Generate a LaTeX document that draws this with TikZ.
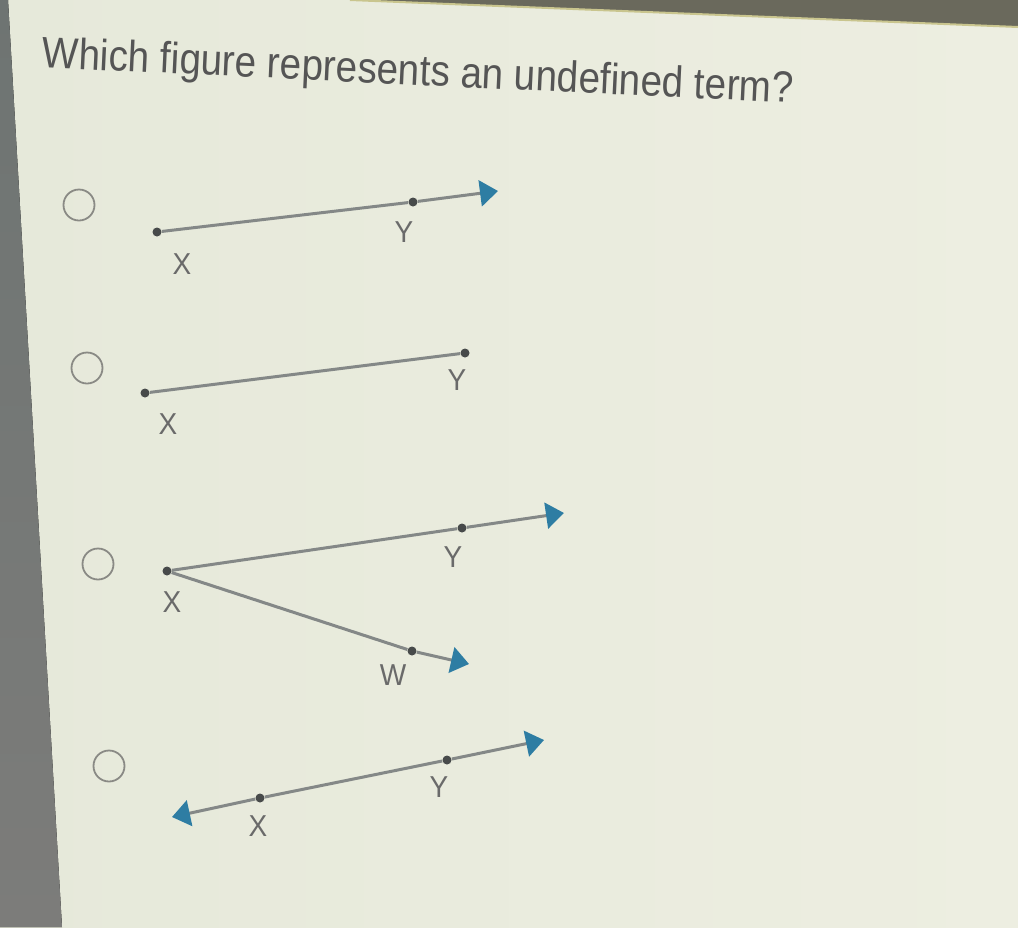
\documentclass[tikz,border=0pt]{standalone}
\usepackage{fontspec}
\setmainfont{Liberation Sans}
\usepackage{tikz}
\usetikzlibrary{positioning,arrows.meta}
\definecolor{pagebg}{HTML}{E6E9DA}
\definecolor{pagebgr}{HTML}{EDEEE1}
\definecolor{bezel}{HTML}{6E7472}
\definecolor{bezelb}{HTML}{7C7C7A}
\definecolor{topband}{HTML}{6A695C}
\definecolor{bandedge}{HTML}{C9C58E}
\definecolor{textgray}{HTML}{555555}
\definecolor{labelgray}{HTML}{6A6A6A}
\definecolor{linegray}{HTML}{848887}
\definecolor{dotgray}{HTML}{474A4A}
\definecolor{optgray}{HTML}{8A8A85}
\definecolor{tipblue}{HTML}{2E7DA3}
\tikzset{
  quiz option/.style={circle, draw=optgray, line width=0.9pt, minimum size=15.5pt, inner sep=0pt},
  quiz dot/.style={circle, fill=dotgray, inner sep=0pt, minimum size=4.5pt},
  quiz label/.style={text=labelgray, font=\fontsize{14}{16}\selectfont, inner sep=0pt, yscale=1.08},
  quiz line/.style={draw=linegray, line width=1.5pt},
  quiz tip/.style={Triangle[length=9pt,width=13pt,color=tipblue]},
  quiz ray/.style={quiz line, -{Triangle[length=9pt,width=13pt,color=tipblue]}}
}

\begin{document}
\begin{tikzpicture}[x=0.5pt, y=-0.5pt]
    \useasboundingbox (0,0) rectangle (1018,927);
    % Screen and bezel
    \fill[left color=pagebg, right color=pagebgr] (0,0) rectangle (1018,927);
    \fill[top color=bezel, bottom color=bezelb] (0,0) -- (8,0) -- (62,927) -- (0,927) -- cycle;
    \fill[topband] (350,0) -- (1018,0) -- (1018,27) -- cycle;
    \draw[bandedge, line width=1pt] (350,0) -- (1018,27);

    % Question
    \node [anchor=west, rotate=-2.7, xscale=0.92, yscale=1.04, text=textgray, inner sep=0pt,
           font=\fontsize{21}{24}\selectfont] (question) at (42,56) {Which figure represents an undefined term?};

    % Option A: ray XY
    \node [quiz option] (optA) at (79,205) {};
    \node [quiz dot] (XA) at (157,232) {};
    \node [quiz dot] (YA) at (413,202) {};
    \coordinate (TA) at (498,191);
    \draw [quiz line] (XA) -- (YA);
    \draw [quiz ray] (YA) -- (TA);
    \node [quiz label, below=8pt of XA, xshift=12.5pt] (lXA) {X};
    \node [quiz label, below=7pt of YA, xshift=-4.5pt] (lYA) {Y};

    % Option B: segment XY
    \node [quiz option] (optB) at (87,368) {};
    \node [quiz dot] (XB) at (145,393) {};
    \node [quiz dot] (YB) at (465,353) {};
    \draw [quiz line] (XB) -- (YB);
    \node [quiz label, below=7.5pt of XB, xshift=11.5pt] (lXB) {X};
    \node [quiz label, below=5.5pt of YB, xshift=-4pt] (lYB) {Y};

    % Option C: angle YXW
    \node [quiz option] (optC) at (98,564) {};
    \node [quiz dot] (XC) at (167,571) {};
    \node [quiz dot] (YC) at (462,528) {};
    \node [quiz dot] (WC) at (412,651) {};
    \coordinate (TC1) at (564,513);
    \coordinate (TC2) at (469,664);
    \draw [quiz line] (XC) -- (YC);
    \draw [quiz ray] (YC) -- (TC1);
    \draw [quiz line] (XC) -- (WC);
    \draw [quiz ray] (WC) -- (TC2);
    \node [quiz label, below=7.5pt of XC, xshift=2.5pt] (lXC) {X};
    \node [quiz label, below=6.5pt of YC, xshift=-4.5pt] (lYC) {Y};
    \node [quiz label, below=4pt of WC, xshift=-9.5pt] (lWC) {W};

    % Option D: line XY
    \node [quiz option] (optD) at (109,766) {};
    \node [quiz dot] (XD) at (260,798) {};
    \node [quiz dot] (YD) at (447,760) {};
    \coordinate (SD) at (172,817);
    \coordinate (TD) at (544,740);
    \draw [quiz ray] (XD) -- (SD);
    \draw [quiz line] (XD) -- (YD);
    \draw [quiz ray] (YD) -- (TD);
    \node [quiz label, below=6pt of XD, xshift=-1pt] (lXD) {X};
    \node [quiz label, below=5.5pt of YD, xshift=-4pt] (lYD) {Y};
\end{tikzpicture}
\end{document}
